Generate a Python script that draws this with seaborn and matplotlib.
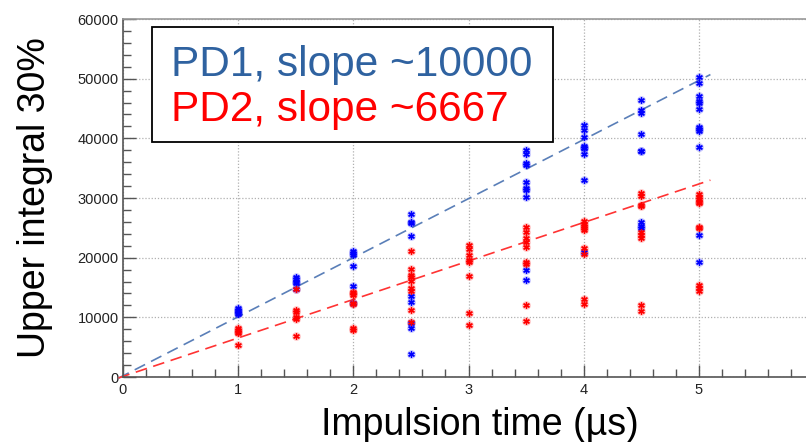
import pandas as pd
import matplotlib.pyplot as plt
import matplotlib.patches as mpatches
from matplotlib.ticker import MultipleLocator
import seaborn as sns

times = [1, 1.5, 2, 2.5, 3, 3.5, 4, 4.5, 5]

pd1_values = [
    [11500, 11200, 11000, 10800, 10600],
    [16700, 16400, 16000, 15700, 14700],
    [21100, 20800, 20500, 18600, 15200, 12400],
    [27300, 26000, 25800, 23700, 13500, 12500, 9000, 8200, 3900],
    [],
    [38000, 37300, 35900, 35600, 32700, 31600, 31300, 30100, 17900, 16200],
    [42300, 41400, 40200, 38700, 38400, 38300, 37300, 33000, 21000],
    [46500, 44700, 44300, 40800, 37900, 37800, 25900, 25300, 24900],
    [50200, 49300, 47100, 46300, 45900, 45000, 41900, 41600, 41300, 38600, 23800, 19300],
]

pd2_values = [
    [8200, 7900, 7600, 7300, 5400],
    [14700, 11200, 10900, 10000, 9800, 6800],
    [14300, 14000, 13700, 12400, 12200, 8200, 7800],
    [21100, 18100, 17100, 16800, 16100, 14900, 14500, 11300, 9200],
    [22200, 21400, 20400, 19600, 19300, 17000, 10700, 8700],
    [25100, 24300, 23300, 22600, 21800, 19200, 18900, 12100, 9400],
    [26200, 25700, 25300, 24900, 24600, 21700, 20600, 13100, 12300],
    [30800, 30300, 28900, 28600, 24300, 23800, 23300, 12100, 11000],
    [30600, 30200, 29800, 29300, 29100, 25200, 24900, 15400, 15000, 14400],
]

# fitted lines (slope, intercept) and their x range
fit_x = [-0.04, 5.1]
pd1_fit = (9900, 200)
pd2_fit = (6450, 100)

legend_lines = ['PD1, slope ~10000', 'PD2, slope ~6667']

rows = []
for name, vals in [('PD1', pd1_values), ('PD2', pd2_values)]:
    for t, vs in zip(times, vals):
        for v in vs:
            rows.append({'time': t, 'value': v, 'det': name})
df = pd.DataFrame(rows)

fit_rows = []
for name, (m, b) in [('PD1', pd1_fit), ('PD2', pd2_fit)]:
    for x in fit_x:
        fit_rows.append({'time': x, 'value': m * x + b, 'det': name})
fits = pd.DataFrame(fit_rows)

sns.set_theme(style='white')
plt.rcParams['font.family'] = ['Liberation Sans', 'DejaVu Sans']

fig = plt.figure(figsize=(8.06, 4.42), dpi=100)
ax = fig.add_axes([0.1526, 0.147, 0.8474, 0.81])

pal_pts = {'PD1': '#0000ff', 'PD2': '#ff0000'}
pal_fit = {'PD1': '#5a7fb8', 'PD2': '#ff3333'}

# fit lines
for name in ['PD1', 'PD2']:
    sub = fits[fits['det'] == name]
    sns.lineplot(x='time', y='value', data=sub, ax=ax, color=pal_fit[name],
                 lw=1.2, dashes=False, zorder=2)
for ln in ax.lines:
    ln.set_linestyle((0, (7, 4)))
    ln.set_clip_on(False)

# points: soft halo + asterisk
for name in ['PD1', 'PD2']:
    sub = df[df['det'] == name]
    sns.scatterplot(x='time', y='value', data=sub, ax=ax, color=pal_pts[name],
                    marker='o', s=40, alpha=0.22, linewidth=0, zorder=3)
    sns.scatterplot(x='time', y='value', data=sub, ax=ax, color=pal_pts[name],
                    marker=(6, 2, 0), s=16, linewidth=1.0, edgecolor=pal_pts[name],
                    zorder=4)

ax.set_xlim(0, 5.93)
ax.set_ylim(0, 60000)
ax.xaxis.set_major_locator(MultipleLocator(1))
ax.xaxis.set_minor_locator(MultipleLocator(0.2))
ax.yaxis.set_major_locator(MultipleLocator(10000))
ax.yaxis.set_minor_locator(MultipleLocator(2000))
ax.grid(True, which='major', color='#b0b0b0', linestyle=(0, (1, 1.5)), lw=0.9)
ax.tick_params(which='both', direction='in', colors='#555555', labelcolor='#222222',
               labelsize=10.5, bottom=True, left=True)
ax.tick_params(which='major', length=9, width=1.0)
ax.tick_params(which='minor', length=6, width=1.0)
ax.tick_params(axis='x', pad=4)
ax.tick_params(axis='y', pad=3)

for side in ['left', 'bottom', 'top']:
    ax.spines[side].set_color('#555555')
    ax.spines[side].set_linewidth(1.2)
ax.spines['top'].set_color('#999999')
ax.spines['right'].set_visible(False)

ax.set_xlabel('Impulsion time (µs)', fontsize=27, color='black')
ax.xaxis.set_label_coords(0.523, -0.083)
ax.set_ylabel('Upper integral 30%', fontsize=27, color='black')
ax.yaxis.set_label_coords(-0.103, 0.5)
if ax.get_legend() is not None:
    ax.get_legend().remove()

# legend box
box = mpatches.Rectangle((0.0425, 0.656), 0.587, 0.322, transform=ax.transAxes,
                         facecolor='white', edgecolor='black', lw=1.3, zorder=6)
ax.add_patch(box)
ax.text(0.07, 0.872, legend_lines[0], transform=ax.transAxes, fontsize=30.5,
        color='#2f62a0', va='center', ha='left', zorder=7)
ax.text(0.07, 0.745, legend_lines[1], transform=ax.transAxes, fontsize=30.5,
        color='#ff0000', va='center', ha='left', zorder=7)

fig.savefig('out.png', dpi=100)
